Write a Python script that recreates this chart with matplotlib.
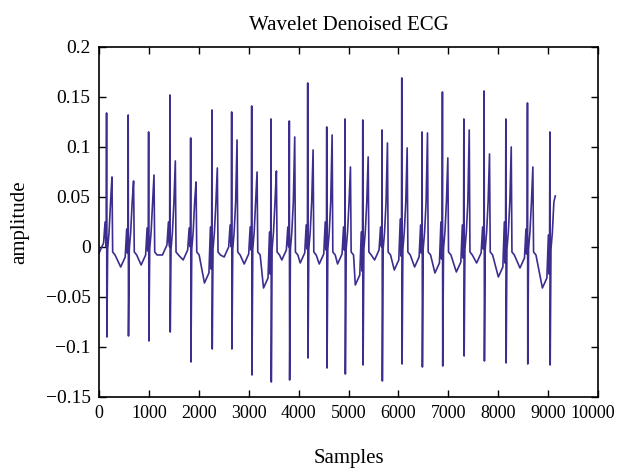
import numpy as np
import matplotlib.pyplot as plt
import matplotlib.transforms as mtransforms
from matplotlib.ticker import FuncFormatter

# values (one entry per heart beat)
r_pos = [154, 587, 996, 1423, 1838, 2264, 2659, 3060, 3447, 3814, 4182, 4563,
         4930, 5285, 5671, 6066, 6473, 6880, 7309, 7715, 8150, 8583, 9032]
r_amp = [0.134, 0.132, 0.115, 0.152, 0.109, 0.137, 0.135, 0.141, 0.128, 0.126,
         0.164, 0.120, 0.128, 0.127, 0.117, 0.169, 0.115, 0.155, 0.128, 0.156,
         0.128, 0.144, 0.115]
s_amp = [-0.090, -0.089, -0.094, -0.085, -0.115, -0.102, -0.102, -0.128, -0.135,
         -0.133, -0.111, -0.121, -0.127, -0.118, -0.134, -0.117, -0.120, -0.119,
         -0.109, -0.114, -0.116, -0.117, -0.118]
t_amp = [0.070, 0.066, 0.072, 0.086, 0.065, 0.079, 0.107, 0.075, 0.076, 0.110,
         0.097, 0.112, 0.080, 0.090, 0.104, 0.099, 0.114, 0.089, 0.117, 0.093,
         0.100, 0.080, 0.051]
base = [-0.006, -0.020, -0.018, -0.008, -0.013, -0.036, -0.010, -0.017, -0.041,
        -0.013, -0.016, -0.017, -0.017, -0.038, -0.013, -0.023, -0.020, -0.026,
        -0.025, -0.016, -0.030, -0.021, -0.041]
p_amp = [0.025, 0.018, 0.019, 0.025, 0.019, 0.020, 0.022, 0.020, 0.015, 0.020,
         0.022, 0.025, 0.020, 0.015, 0.020, 0.028, 0.022, 0.025, 0.022, 0.020,
         0.025, 0.018, 0.012]
start_val = -0.005

xs = [0]
ys = [start_val]
for i in range(len(r_pos)):
    r = r_pos[i]
    pts = [(r - 150, base[i]), (r - 60, base[i] + 0.01), (r - 30, p_amp[i]),
           (r - 18, base[i] + 0.014), (r - 6, 0.0),
           (r, r_amp[i]), (r + 6, s_amp[i]), (r + 22, -0.002),
           (r + 50, 0.015), (r + 80, 0.045), (r + 108, t_amp[i])]
    if i < len(r_pos) - 1:
        pts += [(r + 122, -0.005), (r + 170, -0.008)]
    for px, py in pts:
        xs.append(px)
        ys.append(py)

plt.rcParams['font.family'] = ['Liberation Serif', 'DejaVu Serif']

fig = plt.figure(figsize=(6.18, 4.73), dpi=100)
ax = fig.add_axes([0.160, 0.1607, 0.808, 0.740])
ax.plot(xs, ys, color='#3b2e8e', lw=1.2)

ax.set_xlim(0, 10000)
ax.set_ylim(-0.15, 0.2)
ax.set_xticks(np.arange(0, 10001, 1000))
ax.set_yticks([-0.15, -0.1, -0.05, 0, 0.05, 0.1, 0.15, 0.2])
ax.yaxis.set_major_formatter(FuncFormatter(lambda v, p: ('%g' % round(v, 3)).replace('-', '\u2212')))
ax.tick_params(direction='in', top=True, right=True, length=5, width=1, pad=6)
ax.tick_params(axis='y', labelsize=14)
ax.tick_params(axis='x', labelsize=13)
for sp in ax.spines.values():
    sp.set_linewidth(1.2)

# last x label sits a little left of its tick so it stays inside the figure
last = ax.get_xticklabels()[-1]
last.set_transform(last.get_transform() +
                   mtransforms.ScaledTranslation(-6 / 100, 0, fig.dpi_scale_trans))

ax.set_title('Wavelet Denoised ECG', fontsize=15, pad=12)
ax.set_xlabel('Samples', fontsize=15)
ax.set_ylabel('amplitude', fontsize=15)
ax.xaxis.set_label_coords(0.5, -0.15)
ax.yaxis.set_label_coords(-0.14, 0.5)

fig.savefig('out.png', dpi=100)
